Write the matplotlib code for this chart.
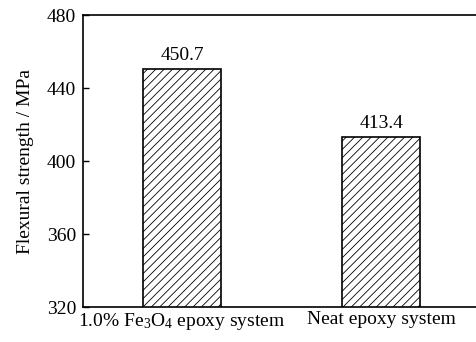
import numpy as np
import matplotlib
matplotlib.use("Agg")
from matplotlib import pyplot as plt

# data
categories = ["1.0% Fe$_3$O$_4$ epoxy system", "Neat epoxy system"]
strength = [450.7, 413.4]
yticks = [320, 360, 400, 440, 480]

plt.rcParams['font.family'] = ['Liberation Serif', 'DejaVu Serif']
plt.rcParams['mathtext.fontset'] = 'custom'
plt.rcParams['mathtext.rm'] = 'Liberation Serif'
plt.rcParams['mathtext.it'] = 'Liberation Serif:italic'
plt.rcParams['hatch.linewidth'] = 0.6

fs = 14

fig = plt.figure(figsize=(4.77, 3.42), dpi=100)
ax = fig.add_axes([0.174, 0.102, 0.824, 0.854])

x = np.arange(len(categories))
bars = ax.bar(x, strength, width=0.39, bottom=0, color='white',
              edgecolor='black', linewidth=1.2, hatch='////')

for xi, v in zip(x, strength):
    ax.text(xi, v + 2.5, "{:.1f}".format(v), ha='center', va='bottom', fontsize=fs)

ax.set_xlim(-0.497, 1.477)
ax.set_ylim(320, 480)
ax.set_yticks(yticks)
ax.set_xticks(x)
ax.set_xticklabels(categories, fontsize=fs)
ax.tick_params(axis='x', length=0, pad=3)
ax.tick_params(axis='y', direction='in', length=4, width=1, labelsize=fs, pad=5)
ax.set_ylabel("Flexural strength / MPa", fontsize=fs, labelpad=9)

ax.spines['right'].set_visible(False)
for s in ['left', 'bottom', 'top']:
    ax.spines[s].set_linewidth(1.2)

fig.savefig("out.png", dpi=100)
